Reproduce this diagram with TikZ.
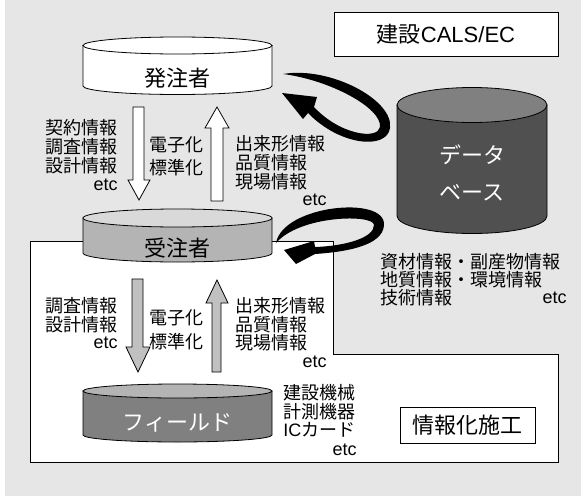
\documentclass[tikz,border=0pt]{standalone}
\usepackage{fontspec}
\setmainfont{Liberation Sans}
\newfontfamily\jp{Noto Sans CJK JP}
\definecolor{bgc}{HTML}{E6E6E6}
\definecolor{g1}{HTML}{D9D9D9}
\definecolor{g2}{HTML}{B4B4B4}
\definecolor{g3}{HTML}{808080}
\definecolor{g4}{HTML}{505050}
\definecolor{arrg}{HTML}{C0C0C0}
\newcommand\mycyl[7]{%
  \draw[cylline, fill=#6] ({#1-#4},#2) -- ({#1-#4},#3)
    arc[start angle=180, end angle=360, x radius={#4*0.75pt}, y radius={#5*0.75pt}]
    -- ({#1+#4},#2) -- cycle;
  \draw[cylline, fill=#7] (#1,#2) ellipse [x radius={#4*0.75pt}, y radius={#5*0.75pt}];
}
\begin{document}
\begin{tikzpicture}[x=0.75pt,y=-0.75pt,
  cylline/.style={draw=black, line width=0.6pt},
  jt/.style={inner sep=0pt, font=\fontsize{13.5}{15}\selectfont},
  bigt/.style={inner sep=0pt, font=\fontsize{16.5}{18}\selectfont},
  boxline/.style={draw=black, line width=0.75pt, fill=white},
  fatarrow/.style={draw=black, line width=0.6pt},
  swirl/.style={fill=black}]
\useasboundingbox (0,0) rectangle (581,496);
\fill[bgc] (5,0) rectangle (581,496);
% white region
\draw[boxline] (30,241) -- (333,241) -- (333,354) -- (558,354) -- (558,462) -- (30,462) -- cycle;
% cylinders
\mycyl{177.5}{45.5}{86}{94.5}{8.5}{white}{white}
\mycyl{472}{105}{216}{75}{17.5}{g4}{g3}
\mycyl{177.5}{218}{253}{94.5}{9}{g2}{g1}
\mycyl{177.5}{391}{435}{94.5}{7}{g3}{g2}
% cylinder labels
\node[bigt] (hatchu) at (177.5,78) {\jp 発注者};
\node[bigt] (juchu) at (177.5,248) {\jp 受注者};
\node[bigt, text=white] (field) at (177.5,423) {\jp フィールド};
\node[bigt, text=white] (db1) at (472,155) {\jp データ};
\node[bigt, text=white] (db2) at (472,193) {\jp ベース};
% fat arrows
\draw[fatarrow, fill=white] (133,107) -- (144,107) -- (144,180) -- (150,180) -- (139,200) -- (128,180) -- (133,180) -- cycle;
\draw[fatarrow, fill=white] (211,201) -- (223,201) -- (223,128) -- (229,128) -- (217,107) -- (205,128) -- (211,128) -- cycle;
\draw[fatarrow, fill=arrg] (132,279) -- (143,279) -- (143,347) -- (150,347) -- (138,372) -- (126,347) -- (132,347) -- cycle;
\draw[fatarrow, fill=arrg] (212,372) -- (221,372) -- (221,303) -- (228,303) -- (217,280) -- (206,303) -- (212,303) -- cycle;
% swirls
\fill[swirl] (283,74) .. controls (330,66) and (394,100) .. (390,128)
  .. controls (387,150) and (340,146) .. (308,113)
  -- (303,119) -- (282,93) -- (317,97) -- (314,107)
  .. controls (340,135) and (378,140) .. (380,127)
  .. controls (382,108) and (330,80) .. (283,74) -- cycle;
\fill[swirl] (276,243) .. controls (283,205) and (386,195) .. (384,225)
  .. controls (383,246) and (345,252) .. (315,254)
  -- (296,264) -- (284,250) -- (314,241) -- (315,247)
  .. controls (345,246) and (374,238) .. (374,225)
  .. controls (374,214) and (300,215) .. (276,243) -- cycle;
% upper texts
\node[jt, anchor=east] (a1) at (118,128) {\jp 契約情報};
\node[jt, anchor=east] (a2) at (118,147) {\jp 調査情報};
\node[jt, anchor=east] (a3) at (118,166) {\jp 設計情報};
\node[jt, anchor=base east] (a4) at (118,190) {etc};
\node[jt] (e1) at (176.5,145) {\jp 電子化};
\node[jt] (e2) at (176.5,168) {\jp 標準化};
\node[jt, anchor=west] (b1) at (235,144) {\jp 出来形情報};
\node[jt, anchor=west] (b2) at (235,163) {\jp 品質情報};
\node[jt, anchor=west] (b3) at (235,182) {\jp 現場情報};
\node[jt, anchor=base east] (b4) at (327,205) {etc};
% lower texts
\node[jt, anchor=east] (c1) at (118,306) {\jp 調査情報};
\node[jt, anchor=east] (c2) at (118,325) {\jp 設計情報};
\node[jt, anchor=base east] (c3) at (118,348) {etc};
\node[jt] (f1) at (176.5,318) {\jp 電子化};
\node[jt] (f2) at (176.5,342) {\jp 標準化};
\node[jt, anchor=west] (d1) at (235,306) {\jp 出来形情報};
\node[jt, anchor=west] (d2) at (235,325) {\jp 品質情報};
\node[jt, anchor=west] (d3) at (235,343) {\jp 現場情報};
\node[jt, anchor=base east] (d4) at (327,367) {etc};
\node[jt, anchor=west] (g1n) at (283,393) {\jp 建設機械};
\node[jt, anchor=west] (g2n) at (283,412) {\jp 計測機器};
\node[jt, anchor=west] (g3n) at (283,430) {IC{\jp カード}};
\node[jt, anchor=base east] (g4n) at (357,455) {etc};
\node[jt, anchor=west] (h1) at (380,262) {\jp 資材情報・副産物情報};
\node[jt, anchor=west] (h2) at (380,280) {\jp 地質情報・環境情報};
\node[jt, anchor=west] (h3) at (380,298) {\jp 技術情報};
\node[jt, anchor=base east] (h4) at (567,303) {etc};
% boxes
\node[boxline, bigt, minimum width=168pt, minimum height=33pt] (cals) at (446,34) {{\jp 建設}CALS/EC};
\node[boxline, bigt, minimum width=101.25pt, minimum height=27pt] (joho) at (467.5,425) {\jp 情報化施工};
\end{tikzpicture}
\end{document}
